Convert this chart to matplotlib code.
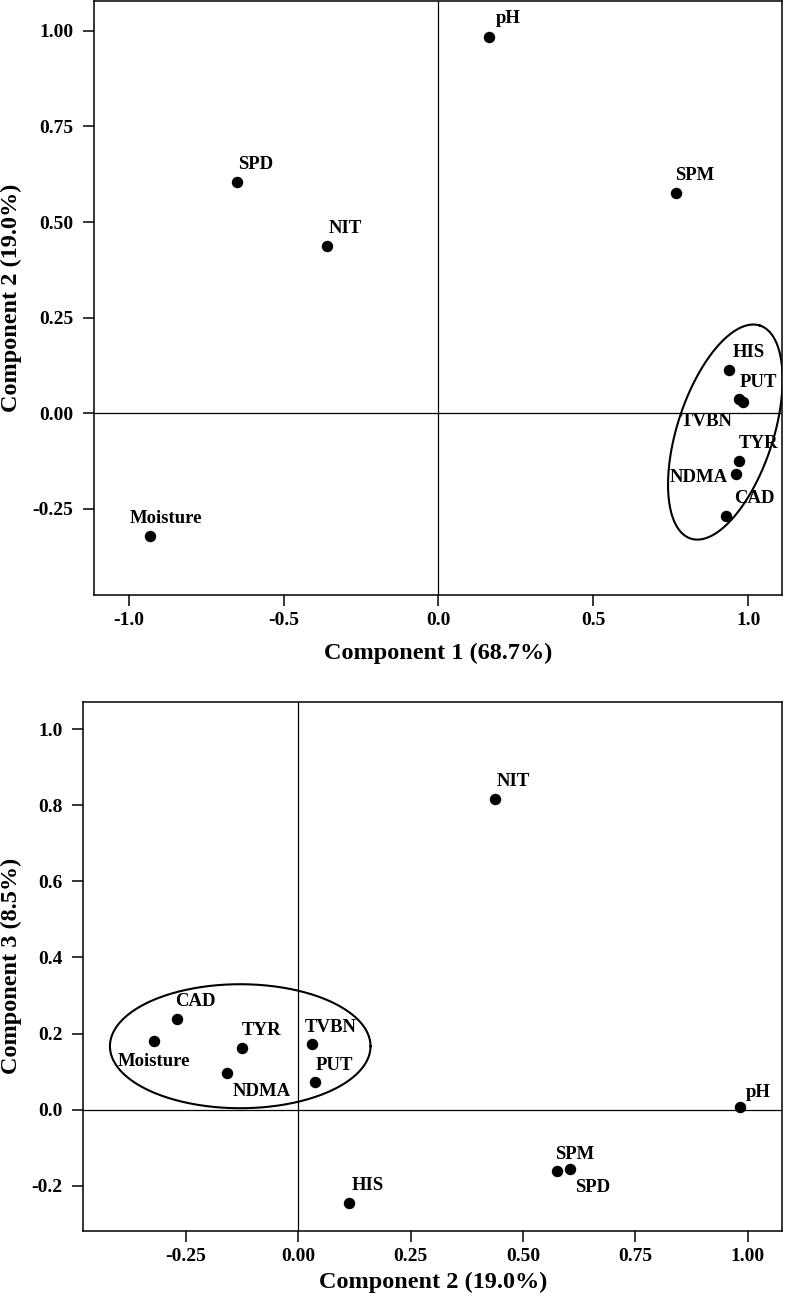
import numpy as np
import matplotlib
matplotlib.use('Agg')
import matplotlib.pyplot as plt
from matplotlib.ticker import FormatStrFormatter

plt.rcParams['font.family'] = 'Liberation Serif'
plt.rcParams['font.weight'] = 'bold'
plt.rcParams['axes.unicode_minus'] = False

# loadings
names = ['pH', 'SPM', 'SPD', 'NIT', 'Moisture', 'HIS', 'PUT', 'TVBN', 'TYR', 'NDMA', 'CAD']
comp1 = [0.162, 0.767, -0.651, -0.360, -0.932, 0.939, 0.969, 0.982, 0.969, 0.962, 0.928]
comp2 = [0.983, 0.576, 0.605, 0.437, -0.320, 0.112, 0.038, 0.030, -0.125, -0.159, -0.269]
comp3 = [0.008, -0.161, -0.157, 0.816, 0.180, -0.245, 0.072, 0.173, 0.163, 0.095, 0.238]

xlabel_top = 'Component 1 (68.7%)'
ylabel_top = 'Component 2 (19.0%)'
xlabel_bot = 'Component 2 (19.0%)'
ylabel_bot = 'Component 3 (8.5%)'

# label offsets in pixels (dx, dy, ha)
off_top = {'pH': (7, 14, 'left'), 'SPM': (-1, 13, 'left'), 'SPD': (1, 13, 'left'),
           'NIT': (2, 13, 'left'), 'Moisture': (-20, 13, 'left'), 'HIS': (3, 13, 'left'),
           'PUT': (1, 12, 'left'), 'TVBN': (-10, -24, 'right'), 'TYR': (0, 13, 'left'),
           'NDMA': (-9, -8, 'right'), 'CAD': (8, 13, 'left')}
off_bot = {'pH': (6, 10, 'left'), 'SPM': (-2, 12, 'left'), 'SPD': (5, -23, 'left'),
           'NIT': (2, 13, 'left'), 'Moisture': (0, -25, 'center'), 'HIS': (3, 13, 'left'),
           'PUT': (0, 12, 'left'), 'TVBN': (-7, 12, 'left'), 'TYR': (0, 13, 'left'),
           'NDMA': (6, -23, 'left'), 'CAD': (-2, 13, 'left')}

W, H = 786, 1302
fig = plt.figure(figsize=(W / 100, H / 100), dpi=100)
ax1 = fig.add_axes([94 / W, (H - 595) / H, 688 / W, 594 / H])
ax2 = fig.add_axes([83.3 / W, (H - 1231) / H, 699 / W, 529.3 / H])


def px_ellipse(ax, cx, cy, a, b, ang):
    # ellipse given in pixel sizes, drawn in data coords
    bb = ax.get_position()
    x0, x1 = ax.get_xlim()
    y0, y1 = ax.get_ylim()
    sx = bb.width * W / (x1 - x0)
    sy = bb.height * H / (y1 - y0)
    t = np.linspace(0, 2 * np.pi, 400)
    r = np.deg2rad(ang)
    u = np.array([np.sin(r), np.cos(r)])
    v = np.array([np.cos(r), -np.sin(r)])
    px = a * np.cos(t) * u[0] + b * np.sin(t) * v[0]
    py = a * np.cos(t) * u[1] + b * np.sin(t) * v[1]
    ax.plot(cx + px / sx, cy + py / sy, color='black', lw=1.5, zorder=3)


def draw(ax, x, y, offs, xlim, ylim, xticks, yticks, xfmt, yfmt, xl, yl, xlc, ylc):
    ax.set_xlim(xlim)
    ax.set_ylim(ylim)
    ax.axhline(0, color='black', lw=0.9, zorder=1)
    ax.axvline(0, color='black', lw=0.9, zorder=1)
    ax.scatter(x, y, s=68, color='black', zorder=5, linewidths=0)
    for n, xx, yy in zip(names, x, y):
        dx, dy, ha = offs[n]
        ax.annotate(n, (xx, yy), xytext=(dx, dy), textcoords='offset pixels',
                    ha=ha, va='baseline', fontsize=13.5, fontweight='bold', zorder=6)
    ax.set_xticks(xticks)
    ax.set_yticks(yticks)
    ax.xaxis.set_major_formatter(FormatStrFormatter(xfmt))
    ax.yaxis.set_major_formatter(FormatStrFormatter(yfmt))
    ax.tick_params(axis='both', direction='out', length=7.9, width=1.1, labelsize=14)
    ax.tick_params(axis='x', pad=4.5)
    ax.tick_params(axis='y', pad=7)
    for sp in ax.spines.values():
        sp.set_linewidth(1.1)
    ax.set_xlabel(xl, fontsize=17.5, fontweight='bold')
    ax.set_ylabel(yl, fontsize=17.5, fontweight='bold')
    ax.xaxis.set_label_coords(0.5, xlc)
    ax.yaxis.set_label_coords(ylc, 0.5)


draw(ax1, comp1, comp2, off_top, (-1.112, 1.109), (-0.475, 1.078),
     [-1.0, -0.5, 0.0, 0.5, 1.0], [-0.25, 0.0, 0.25, 0.5, 0.75, 1.0],
     '%.1f', '%.2f', xlabel_top, ylabel_top, -0.081, -0.105)
px_ellipse(ax1, 0.926, -0.049, 112, 48, 18)

draw(ax2, comp2, comp3, off_bot, (-0.478, 1.0765), (-0.319, 1.072),
     [-0.25, 0.0, 0.25, 0.5, 0.75, 1.0], [-0.2, 0.0, 0.2, 0.4, 0.6, 0.8, 1.0],
     '%.2f', '%.1f', xlabel_bot, ylabel_bot, -0.0775, -0.088)
px_ellipse(ax2, -0.129, 0.1666, 130.3, 62, 90)

fig.savefig('out.png', dpi=100)
